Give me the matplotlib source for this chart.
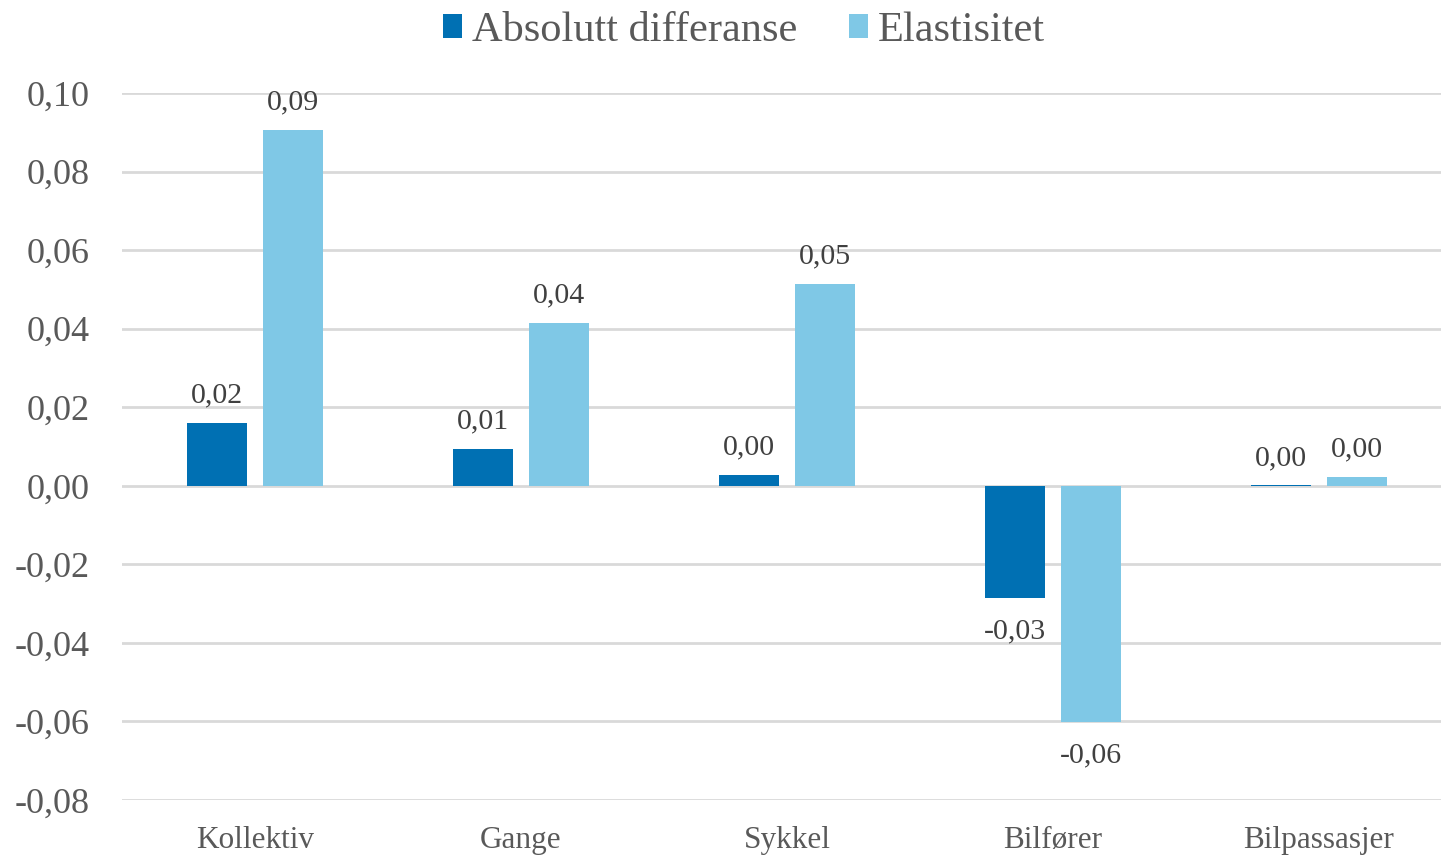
import numpy as np
import matplotlib
matplotlib.use("Agg")
import matplotlib.pyplot as plt

categories = ["Kollektiv", "Gange", "Sykkel", "Bilfører", "Bilpassasjer"]
absolutt = [0.016, 0.0094, 0.0028, -0.0285, 0.0002]
elastisitet = [0.0906, 0.0415, 0.0514, -0.0601, 0.0023]
series_names = ["Absolutt differanse", "Elastisitet"]
yticks = [-0.08, -0.06, -0.04, -0.02, 0.0, 0.02, 0.04, 0.06, 0.08, 0.10]

dark = "#0070B3"
light = "#7FC8E6"
text_col = "#595959"

plt.rcParams["font.family"] = ["Liberation Serif", "DejaVu Serif"]


def fmt(v):
    return f"{v:.2f}".replace(".", ",")


fig = plt.figure(figsize=(14.41, 8.55), dpi=100)
ax = fig.add_axes([122 / 1441, 1 - 800 / 855, 1330 / 1441, (800 - 93) / 855])

x = np.arange(len(categories))
w = 0.225
off = 0.142
b1 = ax.bar(x - off, absolutt, w, color=dark, label=series_names[0], zorder=3)
b2 = ax.bar(x + off, elastisitet, w, color=light, label=series_names[1], zorder=3)

# data labels: centred a bit above positive bars, below negative ones
for bars, vals in [(b1, absolutt), (b2, elastisitet)]:
    for rect, v in zip(bars, vals):
        cx = rect.get_x() + rect.get_width() / 2
        dy = 19.5 if v >= 0 else -24
        ax.annotate(fmt(v), (cx, v), xytext=(0, dy), textcoords="offset points",
                    ha="center", va="center", fontsize=21.5, color="#404040")

ax.set_xlim(-0.5, len(categories) - 0.5)
ax.set_ylim(-0.08, 0.10)
ax.set_yticks(yticks)
ax.set_yticklabels([fmt(t) for t in yticks], fontsize=26, color=text_col)
ax.set_xticks(x)
ax.set_xticklabels(categories, fontsize=22.5, color=text_col)
ax.tick_params(axis="both", length=0)
ax.tick_params(axis="y", pad=23)
ax.tick_params(axis="x", pad=19)
for s in ax.spines.values():
    s.set_visible(False)
ax.grid(axis="y", color="#D9D9D9", linewidth=2, zorder=0)
ax.set_axisbelow(True)

fig.legend(handles=[b1, b2], loc="center", bbox_to_anchor=(744 / 1441, 1 - 31 / 855),
           ncol=2, frameon=False, fontsize=30.5, labelcolor=text_col,
           handlelength=0.45, handleheight=0.5, handletextpad=0.25, columnspacing=1.2)

fig.savefig("out.png", dpi=100)
